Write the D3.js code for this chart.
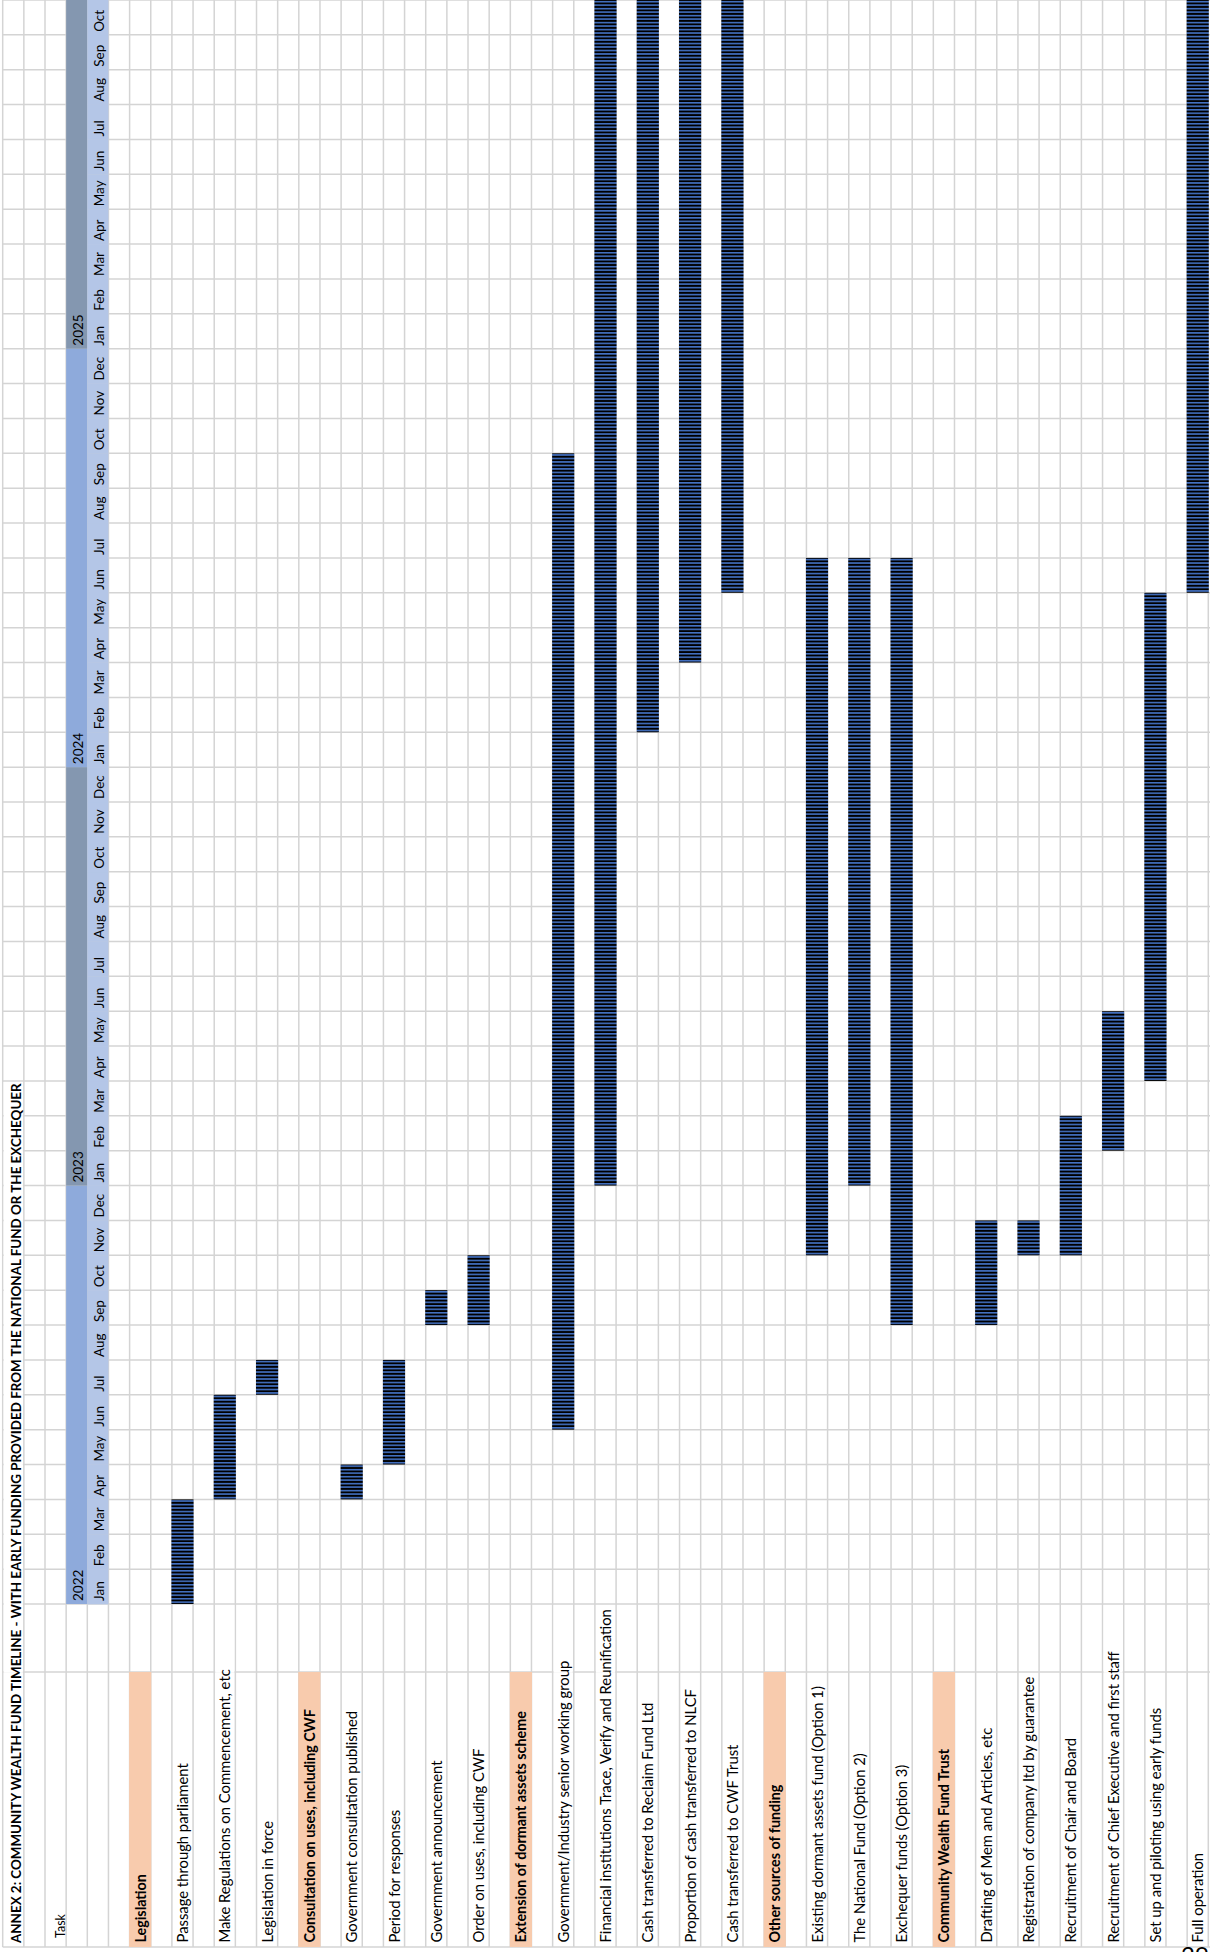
<!DOCTYPE html>
<html>
<head>
<meta charset="utf-8">
<script src="https://cdn.jsdelivr.net/npm/d3@7"></script>
<style>
  body { margin: 0; background: #fff; }
  svg { display: block; font-family: Lato, "Open Sans", sans-serif; }
</style>
</head>
<body>
<div id="chart"></div>
<script>
// ---- data ----
const monthNames = ["Jan", "Feb", "Mar", "Apr", "May", "Jun", "Jul", "Aug", "Sep", "Oct", "Nov", "Dec"];
const years = [2022, 2023, 2024, 2025];
const lastMonth = "2025-10";

const title = "ANNEX 2:  COMMUNITY WEALTH FUND TIMELINE - WITH EARLY FUNDING PROVIDED FROM THE NATIONAL FUND OR THE EXCHEQUER";
const headerLabel = "Task";

const taskNames = [
  "Legislation",
  "Passage through parliament",
  "Make Regulations on Commencement, etc",
  "Legislation in force",
  "Consultation on uses, including CWF",
  "Government consultation published",
  "Period for responses",
  "Government announcement",
  "Order on uses, including CWF",
  "Extension of dormant assets scheme",
  "Government/Industry senior working group",
  "Financial institutions Trace, Verify and Reunification",
  "Cash transferred to Reclaim Fund Ltd",
  "Proportion of cash transferred to NLCF",
  "Cash transferred to CWF Trust",
  "Other sources of funding",
  "Existing dormant assets fund (Option 1)",
  "The National Fund (Option 2)",
  "Exchequer funds (Option 3)",
  "Community Wealth Fund Trust",
  "Drafting of Mem and Articles, etc",
  "Registration of company ltd by guarantee",
  "Recruitment of Chair and Board",
  "Recruitment of Chief Executive and first staff",
  "Set up and piloting using early funds",
  "Full operation"
];
const sectionRows = [0, 4, 9, 15, 19];
const taskStart = [null, "2022-01", "2022-04", "2022-07", null, "2022-04", "2022-05", "2022-09", "2022-09",
  null, "2022-06", "2023-01", "2024-02", "2024-04", "2024-06", null, "2022-11", "2023-01", "2022-09",
  null, "2022-09", "2022-11", "2022-11", "2023-02", "2023-04", "2024-06"];
const taskEnd = [null, "2022-03", "2022-06", "2022-07", null, "2022-04", "2022-07", "2022-09", "2022-10",
  null, "2024-09", "2025-10", "2025-10", "2025-10", "2025-10", null, "2024-06", "2024-06", "2024-06",
  null, "2022-11", "2022-11", "2023-02", "2023-05", "2024-05", "2025-10"];

// ---- layout ----
const W = 1210, H = 1952;
const monthBottom = 1604, labelSplit = 1672, tableBottom = 1947;
const nRows = 57;
const firstTaskRow = 6;

const keyOf = (yr, i) => yr + "-" + String(i + 1).padStart(2, "0");
const monthKeys = [];
years.forEach(yr => monthNames.forEach((mn, i) => {
  const k = keyOf(yr, i);
  if (k <= lastMonth) monthKeys.push(k);
}));

// months run bottom to top (the sheet is printed turned on its side)
const y = d3.scaleBand().domain(monthKeys).range([monthBottom, 0]);
const x = d3.scaleBand().domain(d3.range(nRows)).range([2.7, 1208.3]);
const bw = y.bandwidth(), rw = x.bandwidth();

const svg = d3.select("#chart").append("svg")
    .attr("width", W)
    .attr("height", H);

// bar pattern: black with blue stripes
const pat = svg.append("defs").append("pattern")
    .attr("id", "stripes")
    .attr("patternUnits", "userSpaceOnUse")
    .attr("width", 10)
    .attr("height", bw / 10);
pat.append("rect").attr("width", 10).attr("height", bw / 10).attr("fill", "#000");
pat.append("rect").attr("width", 10).attr("y", bw / 40).attr("height", bw / 22).attr("fill", "#4472c4");

// gridlines
const grid = svg.append("g").attr("stroke", "#d4d4d4").attr("stroke-width", 1.5);
const rowEdges = d3.range(nRows + 1).map(i => x.range()[0] + i * x.step());
grid.selectAll("line.v")
  .data(rowEdges)
  .join("line")
    .attr("class", "v")
    .attr("x1", d => d).attr("x2", d => d)
    .attr("y1", 0).attr("y2", tableBottom);
const hEdges = monthKeys.map(k => y(k)).concat([monthBottom, labelSplit, tableBottom]);
grid.selectAll("line.h")
  .data(hEdges)
  .join("line")
    .attr("class", "h")
    .attr("x1", x.range()[0]).attr("x2", W)
    .attr("y1", d => d).attr("y2", d => d);

const masks = svg.append("g").attr("fill", "#fff");

// year band
const yearBand = svg.append("g");
yearBand.selectAll("rect")
  .data(years)
  .join("rect")
    .attr("x", x(3))
    .attr("width", rw)
    .attr("y", yr => y(monthKeys.filter(k => k.startsWith(yr)).slice(-1)[0]))
    .attr("height", yr => monthKeys.filter(k => k.startsWith(yr)).length * y.step())
    .attr("fill", (yr, i) => i % 2 ? "#8497b0" : "#8eaadb");

// month band
svg.append("g").selectAll("rect")
  .data(monthKeys)
  .join("rect")
    .attr("x", x(4))
    .attr("width", rw)
    .attr("y", k => y(k))
    .attr("height", y.step() + 0.3)
    .attr("fill", "#b4c6e7");

// section fills
const taskRow = i => firstTaskRow + 2 * i;
svg.append("g").selectAll("rect")
  .data(sectionRows)
  .join("rect")
    .attr("x", i => x(taskRow(i)) - 0.5)
    .attr("width", rw + 1)
    .attr("y", labelSplit)
    .attr("height", tableBottom - labelSplit)
    .attr("fill", "#f8cbad");

// bars
const bars = taskNames.map((t, i) => ({ i, s: taskStart[i], e: taskEnd[i] })).filter(d => d.s);
svg.append("g").selectAll("rect")
  .data(bars)
  .join("rect")
    .attr("x", d => x(taskRow(d.i)) - 0.5)
    .attr("width", rw + 1)
    .attr("y", d => y(d.e))
    .attr("height", d => y(d.s) + bw - y(d.e))
    .attr("fill", "url(#stripes)");

// texts
const textG = svg.append("g").attr("fill", "#000");

function vtext(label, row, startY, size, weight, inset) {
  const bx = x(row) + rw - inset;
  return textG.append("text")
      .attr("transform", "translate(" + bx + "," + startY + ") rotate(-90)")
      .attr("font-size", size)
      .attr("font-weight", weight)
      .text(label);
}

// hide gridlines that overflowing text runs across (as the spreadsheet does)
function maskOverflow(t, row, startY) {
  const end = startY - t.node().getComputedTextLength();
  if (end >= labelSplit) return;
  let top = monthBottom;
  if (end < monthBottom) {
    const k = monthKeys.find(k => y(k) <= end && end < y(k) + y.step());
    top = k ? y(k) : 0;
  }
  masks.append("rect")
      .attr("x", x(row) + 1)
      .attr("width", rw - 2)
      .attr("y", top + 1)
      .attr("height", labelSplit + 0.8 - top - 1);
}

const t0 = vtext(title, 0, 1943, 13.4, "bold", 3);
maskOverflow(t0, 0, 1943);
vtext(headerLabel, 2, 1938, 12.5, "normal", 1);

years.forEach(yr => {
  vtext(String(yr), 3, y(yr + "-01") + bw - 3, 13.5, "normal", 4.5);
});
monthKeys.forEach((k, i) => {
  vtext(monthNames[i % 12], 4, y(k) + bw - 3, 13.5, "normal", 4.5);
});

taskNames.forEach((name, i) => {
  const sec = sectionRows.includes(i);
  const t = vtext(name, taskRow(i), 1942.5, sec ? 14.3 : 14.8, sec ? "bold" : "normal", 5);
  maskOverflow(t, taskRow(i), 1942.5);
});

// page number
svg.append("text")
    .attr("x", 1181)
    .attr("y", 1964)
    .attr("font-size", 24)
    .text("29");
</script>
</body>
</html>
